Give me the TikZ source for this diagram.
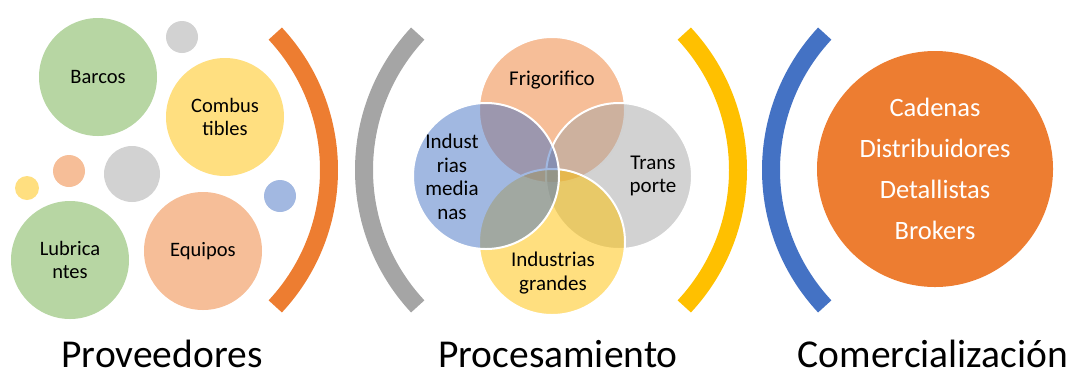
\documentclass[tikz,border=0pt]{standalone}
\usepackage{fontspec}
\setmainfont{Carlito}
\usepackage{tikz}
\usetikzlibrary{positioning}
\tikzset{every node/.append style={align=center}}
\definecolor{accblue}{HTML}{4472C4}
\definecolor{accorange}{HTML}{ED7D31}
\definecolor{accgray}{HTML}{A5A5A5}
\definecolor{accyellow}{HTML}{FFC000}
\definecolor{accgreen}{HTML}{70AD47}

\begin{document}
\begin{tikzpicture}[
    x=1pt, y=-1pt,
    bubble/.style={circle, inner sep=0pt, font=\fontsize{20.5}{23}\selectfont},
    venn/.style={circle, draw=white, line width=2pt, fill opacity=0.5, minimum size=146pt, inner sep=0pt},
    venntext/.style={font=\fontsize{21}{23.5}\selectfont},
    bracket/.style={line width=18pt},
    caption/.style={anchor=base, inner sep=0pt, text depth=0pt, font=\fontsize{39.5}{44}\selectfont}
]
    \useasboundingbox (0,0) rectangle (1075,376);

    % Proveedores bubbles
    \node[bubble, fill=accgreen!50, minimum size=118pt] (barcos) at (98,77) {Barcos};
    \node[bubble, fill=accyellow!50, minimum size=118pt] (combustibles) at (225,117) {Combus\\tibles};
    \node[bubble, fill=accgreen!50, minimum size=118pt] (lubricantes) at (70,260) {Lubrica\\ntes};
    \node[bubble, fill=accorange!50, minimum size=118pt] (equipos) at (203,251) {Equipos};
    \node[bubble, fill=accgray!50, minimum size=32pt] (graytop) at (182,37) {};
    \node[bubble, fill=accgray!50, minimum size=56pt] (graymid) at (132,174) {};
    \node[bubble, fill=accorange!50, minimum size=32pt] (orangedot) at (69,171) {};
    \node[bubble, fill=accyellow!50, minimum size=24pt] (yellowdot) at (27,188) {};
    \node[bubble, fill=accblue!50, minimum size=32pt] (bluedot) at (280,196) {};

    % Brackets
    \draw[bracket, accorange] (129,170) ++(-43:200) arc[start angle=-43, end angle=43, radius=200];
    \draw[bracket, accgray] (564,170) ++(137:200) arc[start angle=137, end angle=223, radius=200];
    \draw[bracket, accyellow] (538,170) ++(-43:200) arc[start angle=-43, end angle=43, radius=200];
    \draw[bracket, accblue] (971,170) ++(137:200) arc[start angle=137, end angle=223, radius=200];

    % Procesamiento venn
    \node[venn, fill=accorange] (frigorifico) at (552,110) {};
    \node[venn, fill=accgray] (transporte) at (619,176) {};
    \node[venn, fill=accyellow] (grandes) at (552,242) {};
    \node[venn, fill=accblue] (medianas) at (486,176) {};
    \node[venntext] (frigorificotext) at (552,80) {Frigorifico};
    \node[venntext] (transportetext) at (653,176) {Trans\\porte};
    \node[venntext] (grandestext) at (553,273) {Industrias\\grandes};
    \node[venntext] (medianastext) at (452,177) {Indust\\rias\\media\\nas};

    % Comercializacion
    \node[circle, fill=accorange, minimum size=236pt, inner sep=0pt, text=white,
          font=\fontsize{26.5}{41}\selectfont] (canales) at (935,169)
          {Cadenas\\Distribuidores\\Detallistas\\Brokers};

    % Captions
    \node[caption] (proveedores) at (162,367) {Proveedores};
    \node[caption] (procesamiento) at (558,367) {Procesamiento};
    \node[caption] (comercializacion) at (933,367) {Comercialización};
\end{tikzpicture}
\end{document}
